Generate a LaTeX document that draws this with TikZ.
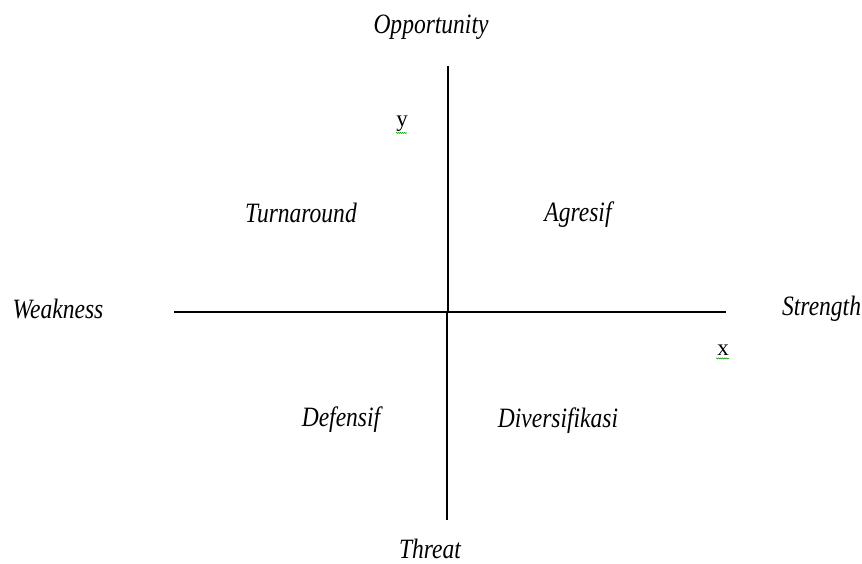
\documentclass[tikz,border=0pt]{standalone}
\usepackage{fontspec}
\setmainfont{Liberation Serif}
\usetikzlibrary{decorations.pathmorphing}
\begin{document}
\begin{tikzpicture}[x=1pt,y=-1pt,
  lbl/.style={font=\fontsize{28}{32}\selectfont\itshape, xscale=0.84, inner sep=0pt},
  axlbl/.style={font=\fontsize{23}{26}\selectfont, inner sep=0pt},
  axis/.style={line width=1.3pt, black},
  squig/.style={green!60!black, line width=0.5pt, decorate, decoration={snake, amplitude=0.6pt, segment length=2pt}}]
\useasboundingbox (0,0) rectangle (862,564);
\clip (0,0) rectangle (862,564);
\coordinate (top) at (448,66);
\coordinate (ctr) at (448,312);
\coordinate (bot) at (447,520);
\coordinate (lft) at (174,312);
\coordinate (rgt) at (726,312);
\draw[axis] (lft) -- (rgt);
\draw[line width=2.2pt] (top) -- (ctr);
\draw[axis] (ctr |- 0,312) ++(-1,0) -- (bot);
\node[lbl] (opp) at (431,27) {Opportunity};
\node[lbl] (thr) at (430,549) {Threat};
\node[lbl] (weak) at (58,309) {Weakness};
\node[lbl, anchor=west] (str) at (782,309) {Strength};
\node[lbl] (turn) at (301,213) {Turnaround};
\node[lbl] (agr) at (578,215) {Agresif};
\node[lbl] (def) at (341,420) {Defensif};
\node[lbl] (div) at (558,421) {Diversifikasi};
\node[axlbl] (ylab) at (402,124) {y};
\node[axlbl] (xlab) at (723,350) {x};
\draw[squig] (ylab.south west) ++(0,1) -- ++(11,0);
\draw[squig] (xlab.south west) ++(-1,3) -- ++(13,0);
\end{tikzpicture}
\end{document}
